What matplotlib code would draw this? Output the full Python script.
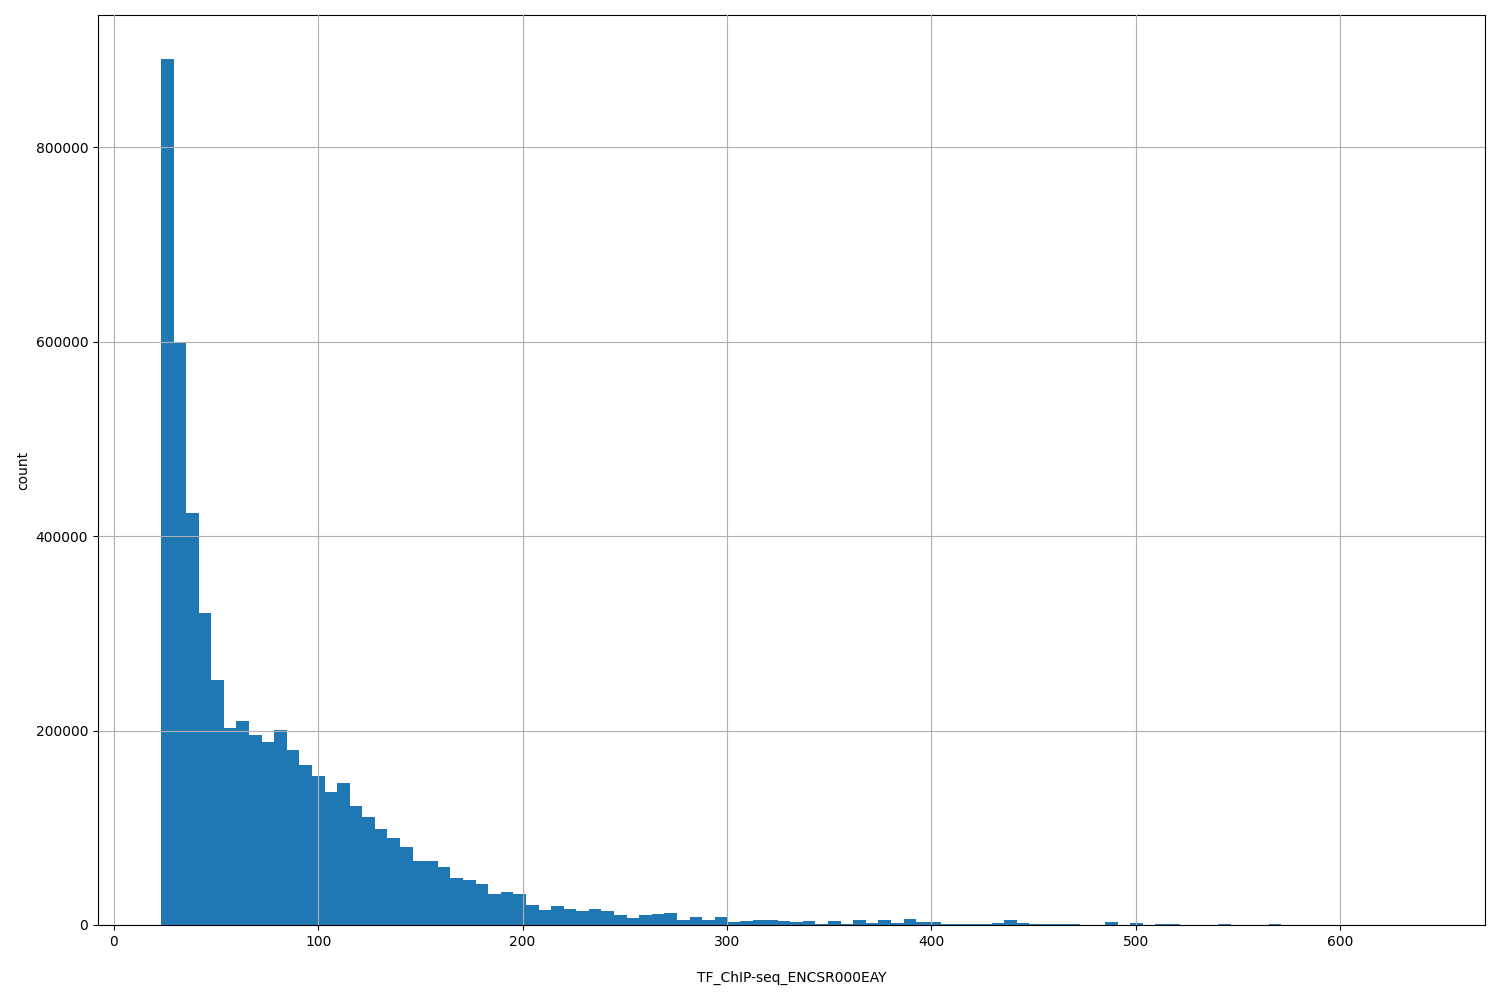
import numpy as np
import matplotlib
matplotlib.use("Agg")
import matplotlib.pyplot as plt

x_min, x_max, n_bins = 23.0, 639.0, 100
counts = [891000, 600000, 424000, 321000, 252000, 203000, 210000, 195000, 188000, 201000,
          180000, 165000, 153000, 137000, 146000, 122000, 111000, 99000, 89000, 80000,
          66000, 66000, 60000, 48000, 46000, 42000, 32000, 34000, 32000, 21000,
          15000, 20000, 16000, 14000, 16000, 14000, 10000, 7000, 10000, 11000,
          12000, 5000, 8000, 5000, 8000, 3000, 4000, 5000, 5000, 4000,
          3000, 4000, 1500, 4000, 1500, 5000, 2500, 5000, 2500, 6000,
          3000, 3000, 1500, 1000, 1000, 1000, 2500, 5000, 2000, 1000,
          1000, 1000, 1000, 500, 500, 3000, 500, 2000, 500, 1000,
          1000, 300, 300, 300, 1000, 300, 300, 300, 1000, 300,
          200, 200, 200, 200, 200, 200, 200, 200, 200, 200]

edges = np.linspace(x_min, x_max, n_bins + 1)
fig = plt.figure(figsize=(15, 10), dpi=100)
ax = fig.add_axes([98/1500, 75/1000, 1387/1500, 910/1000])
ax.bar(edges[:-1], counts, width=np.diff(edges), align='edge', color='#1f77b4', zorder=2)
ax.grid(True, zorder=0)
ax.set_axisbelow(False)
ax.set_xlabel("TF_ChIP-seq_ENCSR000EAY", labelpad=16)
ax.set_ylabel("count")
ax.set_xlim(-7.8, 671.0)
ax.set_ylim(0, 936000)
fig.savefig("out.png")
